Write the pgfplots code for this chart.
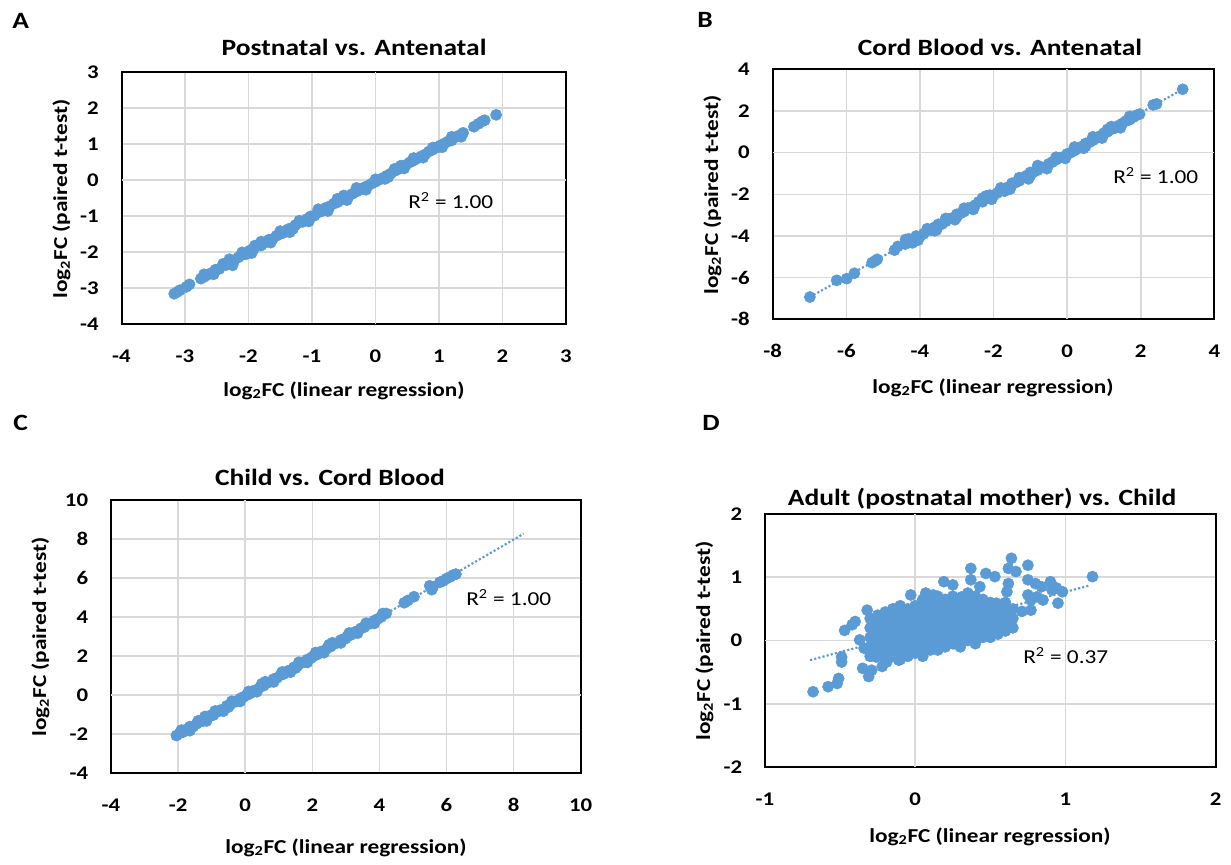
\documentclass[border=0pt]{standalone}
\usepackage{fontspec}
\setmainfont{Carlito}[FakeStretch=1.18]
\usepackage{pgfplots}
\pgfplotsset{compat=1.18}

\definecolor{xlblue}{HTML}{5B9BD5}
\definecolor{gridgray}{HTML}{D9D9D9}
\definecolor{zerogray}{HTML}{BFBFBF}

\newcommand\ttl{\fontsize{17.5}{21}\selectfont\bfseries}
\newcommand\lab{\fontsize{14.8}{18}\selectfont\bfseries}
\newcommand\rsq{\fontsize{14.8}{18}\selectfont}
\newcommand\letter{\fontsize{17.5}{21}\selectfont\bfseries}
\newcommand\lfc{log\textsubscript{2}FC}

\pgfplotsset{
  panel/.style={
    scale only axis, anchor=south west,
    axis line style={black, line width=1.5pt},
    grid=major, major grid style={gridgray, line width=1.2pt},
    tick style={draw=none},
    extra x ticks={0}, extra y ticks={0},
    extra tick style={grid style={zerogray, line width=1.2pt}, xticklabel={}, yticklabel={}},
    ticklabel style={font=\fontsize{14.5}{17}\selectfont\bfseries, inner sep=0pt},
    xticklabel style={anchor=center, yshift=-24pt},
    yticklabel style={anchor=east, xshift=-17pt},
    /pgf/number format/assume math mode=true,
    clip=false,
  },
  dots/.style={only marks, mark=*, mark size=4.2pt, color=xlblue,
    mark options={solid, draw=none, fill=xlblue}},
  trend/.style={no marks, xlblue, line width=1.6pt, dash pattern=on 1.6pt off 1.6pt},
}

\begin{document}
\begin{tikzpicture}[x=0.75pt, y=-0.75pt]
\useasboundingbox (0,0) rectangle (1231,864);

% A: Postnatal vs. Antenatal
\begin{axis}[panel, at={(91.125pt,-243pt)}, width=333.375pt, height=189pt,
  xmin=-4, xmax=3, ymin=-4, ymax=3, xtick={-4,...,3}, ytick={-4,...,3}]
  \addplot[trend] coordinates {(-3.17,-3.16) (1.90,1.81)};
  \addplot[dots] coordinates {
    (-3.17,-3.16) (-3.12,-3.11) (-3.08,-3.06) (-2.98,-2.97) (-2.93,-2.90)
    (-2.75,-2.74) (-2.70,-2.69) (-2.64,-2.63) (-2.58,-2.58) (-2.52,-2.49)
    (-2.46,-2.47) (-2.40,-2.37) (-2.35,-2.36) (-2.28,-2.25) (-2.22,-2.23)
    (-2.16,-2.15) (-2.10,-2.08) (-2.04,-2.06) (-1.98,-1.96) (-1.92,-1.92)
    (-1.86,-1.83) (-1.80,-1.82) (-1.74,-1.74) (-1.68,-1.66) (-1.62,-1.64)
    (-1.56,-1.55) (-1.50,-1.50) (-1.44,-1.46) (-1.38,-1.37) (-1.32,-1.33)
    (-1.26,-1.25) (-1.20,-1.18) (-1.14,-1.16) (-1.08,-1.08) (-1.02,-1.01)
    (-0.96,-0.99) (-0.90,-0.90) (-0.84,-0.86) (-0.78,-0.77) (-0.72,-0.73)
    (-0.66,-0.66) (-0.60,-0.62) (-0.54,-0.55) (-0.48,-0.49) (-0.42,-0.44)
    (-0.36,-0.38) (-0.30,-0.32) (-0.24,-0.27) (-0.18,-0.21) (-0.12,-0.16)
    (-0.06,-0.10) (0.00,-0.05) (0.06,0.01) (0.12,0.06) (0.18,0.12)
    (0.24,0.18) (0.30,0.25) (0.36,0.30) (0.42,0.36) (0.48,0.42)
    (0.54,0.49) (0.60,0.54) (0.66,0.60) (0.72,0.66) (0.78,0.71)
    (0.84,0.79) (0.90,0.84) (0.96,0.90) (1.02,0.96) (1.08,1.01)
    (1.14,1.07) (1.20,1.13) (1.26,1.19) (1.32,1.24) (1.38,1.31)
    (1.55,1.48) (1.62,1.56) (1.68,1.63) (1.72,1.66) (1.90,1.81)
    (-1.90,-1.82) (-1.30,-1.36) (-0.50,-0.43) (0.20,0.08) (0.60,0.60)
    (1.00,0.92) (-2.30,-2.20) (-0.90,-0.83) (0.40,0.40) (1.20,1.10)
    (-2.70,-2.62) (-2.55,-2.62) (-2.40,-2.33) (-2.25,-2.37) (-2.10,-2.01)
    (-1.95,-2.03) (-1.80,-1.71) (-1.65,-1.74) (-1.50,-1.42) (-1.35,-1.45)
    (-1.20,-1.13) (-1.05,-1.15) (-0.90,-0.81) (-0.75,-0.86) (-0.60,-0.52)
    (-0.45,-0.56) (-0.30,-0.22) (-0.15,-0.27) (0.00,0.02) (0.15,0.03)
    (0.30,0.31) (0.45,0.32) (0.60,0.61) (0.75,0.62) (0.90,0.90)
    (1.05,0.91) (1.20,1.20) (1.35,1.20)
  };
\end{axis}

% B: Cord Blood vs. Antenatal
\begin{axis}[panel, at={(579.525pt,-239.475pt)}, width=331.2pt, height=187.5pt,
  xmin=-8, xmax=4, ymin=-8, ymax=4, xtick={-8,-6,...,4}, ytick={-8,-6,...,4}]
  \addplot[trend] coordinates {(-6.99,-6.93) (3.14,3.04)};
  \addplot[dots] coordinates {
    (-6.99,-6.93) (-6.26,-6.13) (-5.99,-6.05) (-5.78,-5.79) (-5.30,-5.28)
    (-5.16,-5.12) (-5.22,-5.20) (-4.69,-4.68) (-4.60,-4.50) (-4.39,-4.17)
    (-4.40,-4.39) (-4.30,-4.22) (-4.20,-4.22) (-4.10,-4.00) (-4.00,-4.03)
    (-3.90,-3.90) (-3.80,-3.70) (-3.70,-3.72) (-3.60,-3.58) (-3.50,-3.44)
    (-3.40,-3.43) (-3.30,-3.30) (-3.20,-3.17) (-3.10,-3.13) (-3.00,-2.96)
    (-2.90,-2.92) (-2.80,-2.83) (-2.70,-2.66) (-2.60,-2.63) (-2.50,-2.52)
    (-2.40,-2.36) (-2.30,-2.36) (-2.20,-2.21) (-2.10,-2.04) (-2.00,-2.05)
    (-1.90,-1.94) (-1.80,-1.78) (-1.70,-1.72) (-1.60,-1.66) (-1.50,-1.47)
    (-1.40,-1.44) (-1.30,-1.35) (-1.20,-1.21) (-1.10,-1.10) (-1.00,-1.10)
    (-0.90,-0.92) (-0.80,-0.84) (-0.70,-0.70) (-0.60,-0.69) (-0.50,-0.54)
    (-0.40,-0.45) (-0.30,-0.34) (-0.20,-0.24) (-0.10,-0.20) (0.00,-0.06)
    (0.10,0.00) (0.20,0.10) (0.30,0.20) (0.40,0.29) (0.50,0.44)
    (0.60,0.49) (0.70,0.59) (0.80,0.70) (0.90,0.80) (1.00,0.94)
    (1.10,1.00) (1.20,1.12) (1.30,1.18) (1.40,1.30) (1.50,1.40)
    (1.60,1.52) (1.70,1.58) (1.80,1.70) (1.90,1.80) (1.97,1.85)
    (2.34,2.29) (2.43,2.34) (3.14,3.04)
    (-3.60,-3.75) (-2.20,-2.08) (-1.00,-0.95) (0.50,0.30) (1.10,1.12)
    (-4.20,-4.33) (-3.00,-3.10) (-0.80,-0.62) (-1.70,-1.85)
    (-4.30,-4.14) (-4.05,-4.20) (-3.80,-3.65) (-3.55,-3.71) (-3.30,-3.16)
    (-3.05,-3.22) (-2.80,-2.67) (-2.55,-2.73) (-2.30,-2.18) (-2.05,-2.24)
    (-1.80,-1.69) (-1.55,-1.75) (-1.30,-1.20) (-1.05,-1.26) (-0.80,-0.71)
    (-0.55,-0.77) (-0.30,-0.22) (-0.05,-0.28) (0.20,0.27) (0.45,0.21)
    (0.70,0.76) (0.95,0.70) (1.20,1.25) (1.45,1.19) (1.70,1.74)
  };
\end{axis}

% C: Child vs. Cord Blood
\begin{axis}[panel, at={(83.25pt,-579.75pt)}, width=352.275pt, height=204.75pt,
  xmin=-4, xmax=10, ymin=-4, ymax=10, xtick={-4,-2,...,10}, ytick={-4,-2,...,10}]
  \addplot[trend] coordinates {(-2.05,-2.08) (8.30,8.27)};
  \addplot[dots] coordinates {
    (-2.05,-2.08) (-1.95,-1.96) (-1.85,-1.90) (-1.75,-1.76) (-1.65,-1.62)
    (-1.55,-1.62) (-1.45,-1.48) (-1.35,-1.36) (-1.25,-1.33) (-1.15,-1.18)
    (-1.05,-1.06) (-0.95,-1.03) (-0.85,-0.88) (-0.75,-0.78) (-0.65,-0.74)
    (-0.55,-0.56) (-0.45,-0.50) (-0.35,-0.38) (-0.25,-0.32) (-0.15,-0.18)
    (-0.05,-0.10) (0.05,0.00) (0.15,0.08) (0.25,0.22) (0.35,0.28)
    (0.45,0.42) (0.55,0.48) (0.65,0.62) (0.75,0.68) (0.85,0.82)
    (0.95,0.88) (1.05,1.02) (1.15,1.08) (1.25,1.22) (1.35,1.28)
    (1.45,1.42) (1.55,1.48) (1.65,1.62) (1.75,1.68) (1.85,1.82)
    (1.95,1.88) (2.05,2.02) (2.15,2.08) (2.25,2.22) (2.35,2.28)
    (2.45,2.42) (2.55,2.48) (2.65,2.62) (2.75,2.68) (2.85,2.82)
    (2.95,2.88) (3.05,3.02) (3.15,3.08) (3.25,3.22) (3.35,3.28)
    (3.45,3.42) (3.55,3.48) (3.65,3.62) (3.75,3.68) (3.85,3.82)
    (3.95,3.90) (4.05,4.00) (4.20,4.18)
    (-1.90,-1.80) (-0.50,-0.62) (0.50,0.58) (1.50,1.38) (2.50,2.58)
    (3.00,2.90) (-1.20,-1.10) (2.00,1.95)
    (-1.90,-1.82) (-1.65,-1.83) (-1.40,-1.32) (-1.15,-1.33) (-0.90,-0.82)
    (-0.65,-0.83) (-0.40,-0.32) (-0.15,-0.33) (0.10,0.18) (0.35,0.17)
    (0.60,0.68) (0.85,0.67) (1.10,1.18) (1.35,1.17) (1.60,1.68)
    (1.85,1.67) (2.10,2.18) (2.35,2.17) (2.60,2.68) (2.85,2.67)
    (3.10,3.18) (3.35,3.17) (3.60,3.68) (3.85,3.67) (4.10,4.18)
    (4.74,4.73) (4.85,4.85) (5.03,5.04) (5.50,5.60) (5.56,5.40)
    (5.60,5.55) (5.80,5.78) (5.90,5.85) (6.00,5.97) (6.10,6.05)
    (6.20,6.15) (6.28,6.20)
  };
\end{axis}

% D: Adult (postnatal mother) vs. Child
\begin{axis}[panel, at={(573.75pt,-575.25pt)}, width=338.025pt, height=189.75pt,
  xmin=-1, xmax=2, ymin=-2, ymax=2, xtick={-1,0,1,2}, ytick={-2,-1,0,1,2}]
  \addplot[trend] coordinates {(-0.70,-0.31) (1.16,0.87)};
  \addplot[dots] coordinates {
    (-0.68,-0.81) (-0.58,-0.73) (-0.52,-0.68) (-0.51,-0.60) (-0.49,-0.34)
    (-0.49,-0.26) (-0.47,0.16) (-0.42,0.25) (-0.40,0.30) (-0.32,0.48)
    (-0.35,-0.44) (-0.31,-0.57) (-0.29,-0.47) (-0.37,0.01) (-0.34,-0.12)
    (-0.30,-0.20) (-0.26,-0.26) (-0.22,-0.41) (-0.19,-0.34) (-0.21,-0.12)
    (-0.26,0.22) (-0.22,0.30) (-0.16,0.43) (-0.12,0.51) (-0.03,0.72)
    (-0.07,0.32) (-0.11,-0.31) (-0.05,-0.23) (0.05,-0.20) (0.15,-0.15)
    (0.26,-0.05) (0.40,0.01) (0.47,0.14) (0.54,0.12) (0.63,0.30)
    (0.71,0.46) (0.77,0.48) (0.77,0.64) (0.75,0.72) (0.75,0.96)
    (0.75,1.19) (0.64,1.30) (0.62,1.14) (0.67,1.09) (0.62,0.90)
    (0.61,0.77) (0.47,1.06) (0.53,1.01) (0.37,1.14) (0.37,0.96)
    (0.43,0.85) (0.19,0.93) (0.25,0.88) (0.07,0.75) (0.12,0.72)
    (0.21,0.64) (0.31,0.69) (0.37,0.69) (0.42,0.59) (0.54,0.59)
    (0.59,0.43) (0.49,0.32) (0.84,0.85) (0.90,0.93) (0.91,0.80)
    (0.85,0.64) (0.95,0.59) (0.98,0.77) (1.18,1.01) (0.80,0.90)
    (0.94,0.83) (0.81,0.69)
    (-0.30,-0.25) (-0.30,-0.10) (-0.30,0.05) (-0.30,0.20) (-0.30,0.35)
    (-0.25,-0.20) (-0.25,-0.05) (-0.25,0.10) (-0.25,0.25) (-0.25,0.40)
    (-0.20,-0.30) (-0.20,-0.15) (-0.20,0.00) (-0.20,0.15) (-0.20,0.30) (-0.20,0.45)
    (-0.15,-0.25) (-0.15,-0.10) (-0.15,0.05) (-0.15,0.20) (-0.15,0.35) (-0.15,0.50)
    (-0.10,-0.30) (-0.10,-0.15) (-0.10,0.00) (-0.10,0.15) (-0.10,0.30) (-0.10,0.45) (-0.10,0.55)
    (-0.05,-0.25) (-0.05,-0.10) (-0.05,0.05) (-0.05,0.20) (-0.05,0.35) (-0.05,0.50)
    (0.00,-0.20) (0.00,-0.05) (0.00,0.10) (0.00,0.25) (0.00,0.40) (0.00,0.55)
    (0.05,-0.25) (0.05,-0.10) (0.05,0.05) (0.05,0.20) (0.05,0.35) (0.05,0.50) (0.05,0.65)
    (0.10,-0.15) (0.10,0.00) (0.10,0.15) (0.10,0.30) (0.10,0.45) (0.10,0.60)
    (0.15,-0.05) (0.15,0.10) (0.15,0.25) (0.15,0.40) (0.15,0.55) (0.15,0.70)
    (0.20,-0.10) (0.20,0.05) (0.20,0.20) (0.20,0.35) (0.20,0.50) (0.20,0.65)
    (0.25,-0.05) (0.25,0.10) (0.25,0.25) (0.25,0.40) (0.25,0.55) (0.25,0.70)
    (0.30,-0.10) (0.30,0.05) (0.30,0.20) (0.30,0.35) (0.30,0.50) (0.30,0.65)
    (0.35,0.00) (0.35,0.15) (0.35,0.30) (0.35,0.45) (0.35,0.60) (0.35,0.75)
    (0.40,-0.05) (0.40,0.10) (0.40,0.25) (0.40,0.40) (0.40,0.55) (0.40,0.70)
    (0.45,0.05) (0.45,0.20) (0.45,0.35) (0.45,0.50) (0.45,0.65)
    (0.50,0.05) (0.50,0.15) (0.50,0.30) (0.50,0.45) (0.50,0.60)
    (0.55,0.10) (0.55,0.25) (0.55,0.40) (0.55,0.55)
    (0.60,0.15) (0.60,0.30) (0.60,0.45) (0.60,0.60)
    (0.65,0.20) (0.65,0.35) (0.65,0.50)
  };
\end{axis}

% panel letters
\node[anchor=base west, inner sep=0pt] at (12,28) {\letter A};
\node[anchor=base west, inner sep=0pt] at (697,27) {\letter B};
\node[anchor=base west, inner sep=0pt] at (13,430) {\letter C};
\node[anchor=base west, inner sep=0pt] at (702,430) {\letter D};

% titles
\node[anchor=base, inner sep=0pt] at (354,55) {\ttl Postnatal vs. Antenatal};
\node[anchor=base, inner sep=0pt] at (1000,55) {\ttl Cord Blood vs. Antenatal};
\node[anchor=base, inner sep=0pt] at (330,485) {\ttl Child vs. Cord Blood};
\node[anchor=base, inner sep=0pt] at (982,505) {\ttl Adult (postnatal mother) vs. Child};

% x labels
\node[anchor=base, inner sep=0pt] at (344,396) {\lab\lfc{} (linear regression)};
\node[anchor=base, inner sep=0pt] at (993,393) {\lab\lfc{} (linear regression)};
\node[anchor=base, inner sep=0pt] at (346,853) {\lab\lfc{} (linear regression)};
\node[anchor=base, inner sep=0pt] at (990,842) {\lab\lfc{} (linear regression)};

% y labels
\node[anchor=base, rotate=90, inner sep=0pt] at (67,199) {\lab\lfc{} (paired t-test)};
\node[anchor=base, rotate=90, inner sep=0pt] at (718,195) {\lab\lfc{} (paired t-test)};
\node[anchor=base, rotate=90, inner sep=0pt] at (46,637) {\lab\lfc{} (paired t-test)};
\node[anchor=base, rotate=90, inner sep=0pt] at (710,641) {\lab\lfc{} (paired t-test)};

% R^2 labels
\node[anchor=base west, inner sep=0pt] at (408,208) {\rsq R\textsuperscript{2} = 1.00};
\node[anchor=base west, inner sep=0pt] at (1113,183) {\rsq R\textsuperscript{2} = 1.00};
\node[anchor=base west, inner sep=0pt] at (466,605) {\rsq R\textsuperscript{2} = 1.00};
\node[anchor=base west, inner sep=0pt] at (1023,663) {\rsq R\textsuperscript{2} = 0.37};
\end{tikzpicture}
\end{document}
